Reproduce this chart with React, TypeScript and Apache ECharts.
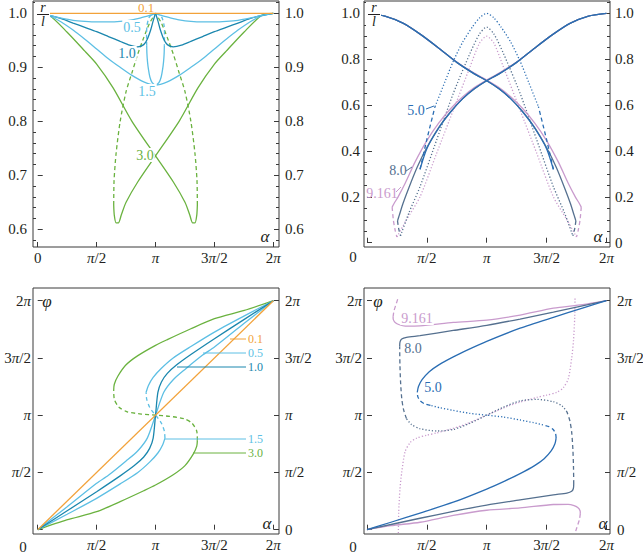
import React, { useEffect, useRef } from 'react';
import * as echarts from 'echarts';

const FONT = 'Liberation Serif';
const TXT = '#231f20';
const FRAME = '#3a3a3a';

const C01 = '#f2a23a';
const C05 = '#5dbfe4';
const C10 = '#1b87ae';
const C15 = '#5dbfe4';
const C30 = '#6ab23f';
const C50 = '#2a6db3';
const C80 = '#55708f';
const C9 = '#c99bcd';

// tick values / labels
const piTicks = [0, 0.5, 1, 1.5, 2];
const piTickLabels = ['0', '{i|π}/2', '{i|π}', '3{i|π}/2', '2{i|π}'];
const tlYTicks = [0.6, 0.7, 0.8, 0.9, 1.0];
const trYTicks = [0, 0.2, 0.4, 0.6, 0.8, 1.0];
const trYLeftLabels = [0.2, 0.4, 0.6, 0.8, 1.0];
const phiLeftLabels = [0.5, 1, 1.5, 2];

// ---------- top-left: r/l vs alpha (alpha in units of pi) ----------
const tl01 = [[0, 1], [2, 1]];
const tl05L = [[0, 1], [0.1, 0.996], [0.2, 0.991], [0.3, 0.987], [0.4, 0.985], [0.5, 0.984], [0.6, 0.984], [0.7, 0.985], [0.8, 0.988], [0.88, 0.992], [0.95, 0.996], [1, 1]];
const tl05R = [[1, 1], [1.05, 0.996], [1.12, 0.992], [1.2, 0.988], [1.3, 0.985], [1.4, 0.984], [1.5, 0.984], [1.6, 0.985], [1.7, 0.987], [1.8, 0.991], [1.9, 0.996], [2, 1]];
const tl10L = [[0, 1], [0.1, 0.996], [0.2, 0.99], [0.3, 0.982], [0.4, 0.974], [0.5, 0.966], [0.6, 0.957], [0.7, 0.948], [0.78, 0.941], [0.85, 0.938], [0.9, 0.942], [0.93, 0.952], [0.96, 0.97], [0.98, 0.986], [1, 1]];
const tl10R = [[1, 1], [1.02, 0.986], [1.04, 0.97], [1.07, 0.952], [1.1, 0.942], [1.15, 0.938], [1.22, 0.941], [1.3, 0.948], [1.4, 0.957], [1.5, 0.966], [1.6, 0.974], [1.7, 0.982], [1.8, 0.99], [1.9, 0.996], [2, 1]];
const tl15Broad = [[0, 1], [0.1, 0.995], [0.2, 0.984], [0.3, 0.969], [0.4, 0.952], [0.5, 0.934], [0.6, 0.916], [0.7, 0.9], [0.8, 0.885], [0.9, 0.873], [1, 0.867], [1.1, 0.873], [1.2, 0.885], [1.3, 0.9], [1.4, 0.916], [1.5, 0.934], [1.6, 0.952], [1.7, 0.969], [1.8, 0.984], [1.9, 0.995], [2, 1]];
const tl15U = [[0.925, 0.94], [0.927, 0.925], [0.932, 0.91], [0.94, 0.896], [0.952, 0.882], [0.97, 0.872], [1, 0.867], [1.03, 0.872], [1.048, 0.882], [1.06, 0.896], [1.068, 0.91], [1.073, 0.925], [1.075, 0.94]];
const tl15DashL = [[0.925, 0.94], [0.924, 0.96], [0.928, 0.978], [0.945, 0.992], [0.97, 0.998], [1, 1]];
const tl15DashR = [[1, 1], [1.03, 0.998], [1.055, 0.992], [1.072, 0.978], [1.076, 0.96], [1.075, 0.94]];
const tl30Desc = [[0, 1], [0.1, 0.996], [0.25, 0.965], [0.4, 0.93], [0.5, 0.906], [0.64, 0.862], [0.8, 0.8], [1, 0.736], [1.15, 0.688], [1.25, 0.65], [1.29, 0.627], [1.315, 0.612], [1.335, 0.612], [1.35, 0.626], [1.355, 0.645]];
const tl30Asc = [[2, 1], [1.9, 0.996], [1.75, 0.965], [1.6, 0.93], [1.5, 0.906], [1.36, 0.862], [1.2, 0.8], [1, 0.736], [0.85, 0.688], [0.75, 0.65], [0.71, 0.627], [0.685, 0.612], [0.665, 0.612], [0.65, 0.626], [0.645, 0.645]];
const tl30DashR = [[1.355, 0.645], [1.352, 0.69], [1.335, 0.74], [1.3, 0.8], [1.25, 0.855], [1.2, 0.89], [1.15, 0.925], [1.1, 0.955], [1.05, 0.982], [1, 1]];
const tl30DashL = [[0.645, 0.645], [0.648, 0.69], [0.665, 0.74], [0.7, 0.8], [0.75, 0.855], [0.8, 0.89], [0.85, 0.925], [0.9, 0.955], [0.95, 0.982], [1, 1]];

// ---------- top-right ----------
const tr50Desc = [[0, 1], [0.15, 0.988], [0.3, 0.957], [0.45, 0.907], [0.6, 0.848], [0.75, 0.786], [0.9, 0.735], [1, 0.706], [1.1, 0.672], [1.2, 0.628], [1.3, 0.57], [1.4, 0.5], [1.5, 0.41], [1.557, 0.32]];
const tr50Asc = [[2, 1], [1.85, 0.988], [1.7, 0.957], [1.55, 0.907], [1.4, 0.848], [1.25, 0.786], [1.1, 0.735], [1, 0.706], [0.9, 0.672], [0.8, 0.628], [0.7, 0.57], [0.6, 0.5], [0.5, 0.41], [0.443, 0.32]];
const tr50DashR = [[1.557, 0.32], [1.5, 0.45], [1.432, 0.593]];
const tr50DashL = [[0.443, 0.32], [0.5, 0.45], [0.568, 0.593]];
const tr50Dot = [[0.568, 0.593], [0.65, 0.7], [0.72, 0.79], [0.8, 0.875], [0.88, 0.94], [0.94, 0.98], [1, 1], [1.06, 0.98], [1.12, 0.94], [1.2, 0.875], [1.28, 0.79], [1.35, 0.7], [1.432, 0.593]];
const tr80Desc = [[0, 1], [0.15, 0.988], [0.3, 0.957], [0.45, 0.907], [0.6, 0.848], [0.75, 0.786], [0.9, 0.735], [1, 0.706], [1.1, 0.672], [1.2, 0.628], [1.3, 0.572], [1.4, 0.503], [1.5, 0.415], [1.58, 0.33], [1.65, 0.24], [1.7, 0.17], [1.73, 0.12], [1.745, 0.095]];
const tr80Asc = [[2, 1], [1.85, 0.988], [1.7, 0.957], [1.55, 0.907], [1.4, 0.848], [1.25, 0.786], [1.1, 0.735], [1, 0.706], [0.9, 0.672], [0.8, 0.628], [0.7, 0.572], [0.6, 0.503], [0.5, 0.415], [0.42, 0.33], [0.35, 0.24], [0.3, 0.17], [0.27, 0.12], [0.255, 0.095]];
const tr80DashR = [[1.745, 0.095], [1.735, 0.06], [1.72, 0.03]];
const tr80DashL = [[0.255, 0.095], [0.265, 0.06], [0.28, 0.03]];
const tr80Dot = [[0.28, 0.03], [0.35, 0.13], [0.443, 0.244], [0.582, 0.448], [0.721, 0.651], [0.861, 0.826], [0.94, 0.91], [1, 0.94], [1.06, 0.91], [1.139, 0.826], [1.279, 0.651], [1.418, 0.448], [1.557, 0.244], [1.65, 0.13], [1.72, 0.03]];
const tr9Desc = [[0, 1], [0.15, 0.988], [0.3, 0.957], [0.45, 0.907], [0.6, 0.848], [0.75, 0.788], [0.9, 0.738], [1, 0.709], [1.1, 0.677], [1.2, 0.636], [1.3, 0.585], [1.4, 0.522], [1.5, 0.445], [1.6, 0.35], [1.68, 0.26], [1.74, 0.2], [1.775, 0.17], [1.79, 0.155]];
const tr9Asc = [[2, 1], [1.85, 0.988], [1.7, 0.957], [1.55, 0.907], [1.4, 0.848], [1.25, 0.788], [1.1, 0.738], [1, 0.709], [0.9, 0.677], [0.8, 0.636], [0.7, 0.585], [0.6, 0.522], [0.5, 0.445], [0.4, 0.35], [0.32, 0.26], [0.26, 0.2], [0.225, 0.17], [0.21, 0.155]];
const tr9DashR = [[1.79, 0.155], [1.78, 0.1], [1.765, 0.055], [1.75, 0.025]];
const tr9DashL = [[0.21, 0.155], [0.22, 0.1], [0.235, 0.055], [0.25, 0.025]];
const tr9Dot = [[0.25, 0.025], [0.33, 0.1], [0.443, 0.2], [0.582, 0.39], [0.721, 0.578], [0.861, 0.767], [0.94, 0.87], [1, 0.9], [1.06, 0.87], [1.139, 0.767], [1.279, 0.578], [1.418, 0.39], [1.557, 0.2], [1.67, 0.1], [1.75, 0.025]];

// ---------- bottom-left: phi vs alpha (both in units of pi) ----------
const bl01 = [[0, 0], [2, 2]];
const bl05 = [[0, 0], [0.25, 0.2], [0.5, 0.405], [0.6, 0.475], [0.75, 0.6], [0.85, 0.69], [0.93, 0.8], [1, 1], [1.07, 1.2], [1.15, 1.31], [1.25, 1.4], [1.4, 1.525], [1.5, 1.595], [1.75, 1.8], [2, 2]];
const bl10 = [[0, 0], [0.25, 0.165], [0.5, 0.332], [0.7, 0.47], [0.82, 0.56], [0.9, 0.635], [0.95, 0.71], [0.98, 0.8], [1, 1], [1.02, 1.2], [1.05, 1.29], [1.1, 1.365], [1.18, 1.44], [1.3, 1.53], [1.5, 1.668], [1.75, 1.835], [2, 2]];
const bl15Low = [[0, 0], [0.25, 0.135], [0.5, 0.274], [0.7, 0.4], [0.85, 0.5], [0.95, 0.59], [1.02, 0.67], [1.06, 0.74], [1.08, 0.8]];
const bl15Dash = [[1.08, 0.8], [1.075, 0.86], [1.05, 0.93], [1.02, 0.975], [1, 1], [0.98, 1.025], [0.95, 1.07], [0.925, 1.14], [0.92, 1.2]];
const bl15Up = [[0.92, 1.2], [0.94, 1.26], [0.98, 1.33], [1.05, 1.41], [1.15, 1.5], [1.3, 1.6], [1.5, 1.726], [1.75, 1.865], [2, 2]];
const bl30Low = [[0, 0], [0.246, 0.085], [0.5, 0.157], [0.7, 0.245], [0.9, 0.34], [1, 0.39], [1.15, 0.48], [1.25, 0.56], [1.32, 0.66], [1.35, 0.73], [1.355, 0.78]];
const bl30Dash = [[1.355, 0.78], [1.35, 0.86], [1.31, 0.93], [1.24, 0.97], [1.12, 0.99], [1, 1], [0.88, 1.01], [0.76, 1.03], [0.69, 1.07], [0.65, 1.14], [0.645, 1.22]];
const bl30Up = [[0.645, 1.22], [0.65, 1.27], [0.68, 1.34], [0.75, 1.44], [0.85, 1.52], [1, 1.61], [1.1, 1.66], [1.3, 1.755], [1.5, 1.843], [1.754, 1.915], [2, 2]];

// ---------- bottom-right ----------
const br50Low = [[0, 0], [0.2, 0.065], [0.443, 0.145], [0.721, 0.24], [1, 0.355], [1.15, 0.425], [1.279, 0.49], [1.4, 0.56], [1.48, 0.62], [1.54, 0.69], [1.57, 0.75], [1.58, 0.8]];
const br50DashR = [[1.58, 0.8], [1.575, 0.84], [1.555, 0.875], [1.52, 0.9], [1.47, 0.915]];
const br50Dot = [[1.47, 0.915], [1.39, 0.935], [1.28, 0.958], [1.14, 0.984], [1, 1], [0.86, 1.016], [0.72, 1.042], [0.61, 1.065], [0.53, 1.085]];
const br50DashL = [[0.53, 1.085], [0.48, 1.1], [0.445, 1.125], [0.425, 1.16], [0.42, 1.2]];
const br50Up = [[0.42, 1.2], [0.43, 1.25], [0.46, 1.31], [0.52, 1.38], [0.6, 1.44], [0.721, 1.51], [0.85, 1.575], [1, 1.645], [1.279, 1.76], [1.557, 1.855], [1.8, 1.935], [2, 2]];
const br80Low = [[0, 0], [0.443, 0.1], [0.721, 0.16], [1, 0.215], [1.279, 0.26], [1.557, 0.305], [1.67, 0.32], [1.71, 0.335], [1.724, 0.36], [1.727, 0.4]];
const br80DashR = [[1.727, 0.4], [1.725, 0.55], [1.72, 0.7], [1.71, 0.85], [1.695, 0.95], [1.67, 1.03]];
const br80Dot = [[1.67, 1.03], [1.63, 1.08], [1.557, 1.118], [1.418, 1.138], [1.279, 1.125], [1.139, 1.07], [1, 1], [0.861, 0.93], [0.721, 0.875], [0.582, 0.862], [0.443, 0.882], [0.37, 0.92], [0.33, 0.97]];
const br80DashL = [[0.33, 0.97], [0.305, 1.05], [0.29, 1.15], [0.28, 1.3], [0.275, 1.45], [0.273, 1.6]];
const br80Up = [[0.273, 1.6], [0.276, 1.64], [0.29, 1.665], [0.33, 1.68], [0.443, 1.695], [0.721, 1.74], [1, 1.785], [1.279, 1.84], [1.557, 1.9], [2, 2]];
const br9Low = [[0, 0], [0.2, 0.035], [0.443, 0.065], [0.721, 0.125], [1, 0.17], [1.279, 0.19], [1.557, 0.22], [1.68, 0.222], [1.73, 0.21], [1.765, 0.19], [1.78, 0.165], [1.782, 0.14]];
const br9DashLow = [[1.782, 0.14], [1.775, 0.09], [1.76, 0.04], [1.738, -0.03]];
const br9Up = [[2, 2], [1.8, 1.965], [1.557, 1.935], [1.279, 1.875], [1, 1.83], [0.721, 1.81], [0.443, 1.78], [0.32, 1.778], [0.27, 1.79], [0.235, 1.81], [0.22, 1.835], [0.218, 1.86]];
const br9DashUp = [[0.218, 1.86], [0.225, 1.91], [0.24, 1.96], [0.262, 2.03]];
const br9Dot = [[0.262, -0.03], [0.265, 0.15], [0.275, 0.35], [0.29, 0.5], [0.318, 0.68], [0.36, 0.76], [0.415, 0.8], [0.5, 0.825], [0.582, 0.845], [0.72, 0.885], [0.833, 0.925], [1, 1], [1.167, 1.075], [1.28, 1.115], [1.418, 1.155], [1.5, 1.175], [1.585, 1.2], [1.64, 1.24], [1.682, 1.32], [1.71, 1.5], [1.725, 1.65], [1.735, 1.85], [1.738, 2.03]];

const rich = {
  i: { fontStyle: 'italic', fontFamily: FONT, fontSize: 15, color: TXT },
};

function piLabel(v: number) {
  const idx = piTicks.findIndex((t) => Math.abs(t - v) < 1e-6);
  return idx >= 0 ? piTickLabels[idx] : '';
}

const labelBase = { fontFamily: FONT, fontSize: 15, color: TXT, rich };

function xAxis(gridIndex: number, min: number, max: number, labels: number[]) {
  return {
    type: 'value', gridIndex, min, max, position: 'bottom',
    axisLine: { show: false }, splitLine: { show: false },
    axisTick: { show: true, inside: true, length: 5, lineStyle: { color: FRAME, width: 1 }, customValues: piTicks },
    axisLabel: { ...labelBase, margin: 3, customValues: labels, formatter: (v: number) => piLabel(v) },
  };
}

function yAxis(gridIndex: number, min: number, max: number, position: string, ticks: number[], labels: number[] | null, fmt: (v: number) => string, margin: number, tickLen = 5) {
  return {
    type: 'value', gridIndex, min, max, position,
    axisLine: { show: false }, splitLine: { show: false },
    axisTick: { show: true, inside: true, length: tickLen, lineStyle: { color: FRAME, width: 1 }, customValues: ticks },
    axisLabel: labels ? { ...labelBase, margin, customValues: labels, formatter: fmt } : { show: false },
  };
}

function minorVals(from: number, to: number, step: number, majors: number[]) {
  const out: number[] = [];
  for (let v = from; v <= to + 1e-9; v += step) {
    const r = Math.round(v * 1000) / 1000;
    if (!majors.some((m) => Math.abs(m - r) < 1e-6)) out.push(r);
  }
  return out;
}

export default function App() {
  const ref = useRef<HTMLDivElement>(null);
  useEffect(() => {
    if (!ref.current) return;
    const chart = echarts.init(ref.current, undefined, { renderer: 'svg' });

    const grids = [
      { left: 33, top: 1, width: 246, height: 246 },
      { left: 364, top: 1, width: 246, height: 246 },
      { left: 33, top: 288, width: 246, height: 246 },
      { left: 364, top: 288, width: 246, height: 246 },
    ].map((g) => ({ ...g, show: true, borderColor: FRAME, borderWidth: 1, backgroundColor: 'transparent', containLabel: false, outerBoundsMode: 'none' }));

    const tlX = [-0.04, 2.048];
    const trX = [-0.025, 2.03];
    const tlY = [0.5672, 1.0228];
    const trY = [-0.0187, 1.0536];
    const phY = [-0.0376, 2.111];

    const f1 = (v: number) => v.toFixed(1);
    const f0 = (v: number) => (Math.abs(v) < 1e-9 ? '0' : v.toFixed(1));

    const xAxes = [
      xAxis(0, tlX[0], tlX[1], piTicks),
      xAxis(1, trX[0], trX[1], piTicks.slice(1)),
      xAxis(2, tlX[0], tlX[1], piTicks.slice(1)),
      xAxis(3, trX[0], trX[1], piTicks.slice(1)),
    ];
    const tlMinor = minorVals(0.58, 1.02, 0.02, tlYTicks);
    const trMinor = minorVals(0.05, 1.05, 0.05, trYTicks);
    const yAxes = [
      yAxis(0, tlY[0], tlY[1], 'left', tlYTicks, tlYTicks, f1, 6),
      yAxis(0, tlY[0], tlY[1], 'right', tlYTicks, tlYTicks, f1, 6),
      yAxis(0, tlY[0], tlY[1], 'left', tlMinor, null, f1, 0, 3),
      yAxis(0, tlY[0], tlY[1], 'right', tlMinor, null, f1, 0, 3),
      yAxis(1, trY[0], trY[1], 'left', trYTicks, trYLeftLabels, f0, 4),
      yAxis(1, trY[0], trY[1], 'right', trYTicks, trYTicks, f0, 5),
      yAxis(1, trY[0], trY[1], 'left', trMinor, null, f0, 0, 3),
      yAxis(1, trY[0], trY[1], 'right', trMinor, null, f0, 0, 3),
      yAxis(2, phY[0], phY[1], 'left', piTicks, phiLeftLabels, piLabel, 2),
      yAxis(2, phY[0], phY[1], 'right', piTicks, piTicks, piLabel, 6),
      yAxis(3, phY[0], phY[1], 'left', piTicks, phiLeftLabels, piLabel, 2),
      yAxis(3, phY[0], phY[1], 'right', piTicks, piTicks, piLabel, 7),
    ];

    const SOLID = 'solid';
    const DASH = [4, 3];
    const DOT = [1.2, 2];
    const mk = (data: number[][], g: number, color: string, type: any = SOLID, width = 1.3) => ({
      type: 'line', data, xAxisIndex: g, yAxisIndex: [0, 4, 8, 10][g],
      showSymbol: false, symbol: 'none', smooth: 0.25, clip: true, silent: true,
      lineStyle: { color, width, type }, emphasis: { disabled: true }, z: 3,
    });

    const series = [
      mk(tl30Desc, 0, C30), mk(tl30Asc, 0, C30), mk(tl30DashR, 0, C30, DASH), mk(tl30DashL, 0, C30, DASH),
      mk(tl15Broad, 0, C15), mk(tl15U, 0, C15), mk(tl15DashL, 0, C15, DASH), mk(tl15DashR, 0, C15, DASH),
      mk(tl10L, 0, C10), mk(tl10R, 0, C10),
      mk(tl05L, 0, C05), mk(tl05R, 0, C05),
      mk(tl01, 0, C01),
      mk(tr9Dot, 1, C9, DOT), mk(tr80Dot, 1, C80, DOT), mk(tr50Dot, 1, C50, DOT),
      mk(tr9Desc, 1, C9), mk(tr9Asc, 1, C9), mk(tr9DashR, 1, C9, DASH), mk(tr9DashL, 1, C9, DASH),
      mk(tr80Desc, 1, C80), mk(tr80Asc, 1, C80), mk(tr80DashR, 1, C80, DASH), mk(tr80DashL, 1, C80, DASH),
      mk(tr50Desc, 1, C50), mk(tr50Asc, 1, C50), mk(tr50DashR, 1, C50, DASH), mk(tr50DashL, 1, C50, DASH),
      mk(bl30Low, 2, C30), mk(bl30Dash, 2, C30, DASH), mk(bl30Up, 2, C30),
      mk(bl15Low, 2, C15), mk(bl15Dash, 2, C15, DASH), mk(bl15Up, 2, C15),
      mk(bl05, 2, C05), mk(bl10, 2, C10), mk(bl01, 2, C01),
      mk(br9Dot, 3, C9, DOT), mk(br9Low, 3, C9), mk(br9DashLow, 3, C9, DASH), mk(br9Up, 3, C9), mk(br9DashUp, 3, C9, DASH),
      mk(br80Dot, 3, C80, DOT), mk(br80Low, 3, C80), mk(br80DashR, 3, C80, DASH), mk(br80DashL, 3, C80, DASH), mk(br80Up, 3, C80),
      mk(br50Dot, 3, C50, DOT), mk(br50Low, 3, C50), mk(br50DashR, 3, C50, DASH), mk(br50DashL, 3, C50, DASH), mk(br50Up, 3, C50),
    ];

    const txt = (text: string, x: number, y: number, fill: string, size = 14, italic = false, bg = false, align = 'center', lh?: number) => ({
      type: 'text', z: 10, silent: true,
      style: {
        text, x, y, fill, fontFamily: FONT, fontSize: size, fontStyle: italic ? 'italic' : 'normal',
        align, textAlign: align, verticalAlign: 'middle', textVerticalAlign: 'middle',
        lineHeight: lh,
        backgroundColor: bg ? '#fff' : undefined, padding: bg ? [0, 1] : undefined,
      },
    });
    const ln = (x1: number, y1: number, x2: number, y2: number, stroke: string) => ({
      type: 'line', z: 10, silent: true, shape: { x1, y1, x2, y2 }, style: { stroke, lineWidth: 1 },
    });
    const frac = (cx: number) => [
      { type: 'rect', z: 9, silent: true, shape: { x: cx - 8, y: 2, width: 15, height: 25 }, style: { fill: '#fff' } },
      txt('r', cx, 7, TXT, 14, true, false, 'center', 11),
      ln(cx - 6, 14.5, cx + 6, 14.5, TXT),
      txt('l', cx, 21, TXT, 14, true, false, 'center', 11),
    ];

    const graphic = [
      ...frac(43), ...frac(374),
      txt('α', 265, 236, TXT, 17, true), txt('α', 598, 236, TXT, 17, true),
      txt('α', 267, 523, TXT, 17, true), txt('α', 603, 523, TXT, 17, true),
      txt('φ', 47, 301, TXT, 17, true), txt('φ', 378, 301, TXT, 17, true),
      txt('0', 353, 257, TXT, 15), txt('0', 23, 547, TXT, 15), txt('0', 353, 547, TXT, 15),
      txt('0.1', 146, 7, C01, 13, false, false, 'center', 12),
      txt('0.5', 132, 27, C05, 14, false, true), txt('1.0', 127, 53, C10, 14, false, true),
      txt('1.5', 147, 91, C15, 14, false, true), txt('3.0', 145, 155, C30, 14, false, true),
      txt('5.0', 416, 110, C50, 14), ln(426, 109, 434, 106, C50),
      txt('8.0', 398, 170, C80, 14), ln(406, 171, 412, 167, C80),
      txt('9.161', 382, 193, C9, 14), ln(396, 192, 401, 187, C9),
      ln(230, 339, 246, 339, C01), txt('0.1', 248, 339, C01, 12, false, false, 'left', 12),
      ln(203, 353, 246, 353, C05), txt('0.5', 248, 353, C05, 12, false, false, 'left', 12),
      ln(177, 367, 246, 367, C10), txt('1.0', 248, 367, C10, 12, false, false, 'left', 12),
      ln(165, 439, 246, 439, C15), txt('1.5', 248, 439, C15, 12, false, false, 'left', 12),
      ln(193, 453, 246, 453, C30), txt('3.0', 248, 453, C30, 12, false, false, 'left', 12),
      txt('9.161', 417, 318, C9, 14, false, true), txt('8.0', 413, 348, C80, 14, false, true), txt('5.0', 433, 387, C50, 14, false, true),
    ];

    chart.setOption({
      animation: false,
      backgroundColor: '#fff',
      grid: grids,
      xAxis: xAxes,
      yAxis: yAxes,
      series,
      graphic,
    });
    return () => chart.dispose();
  }, []);

  return <div ref={ref} style={{ position: 'fixed', left: 0, top: 0, width: 643, height: 555 }} />;
}
